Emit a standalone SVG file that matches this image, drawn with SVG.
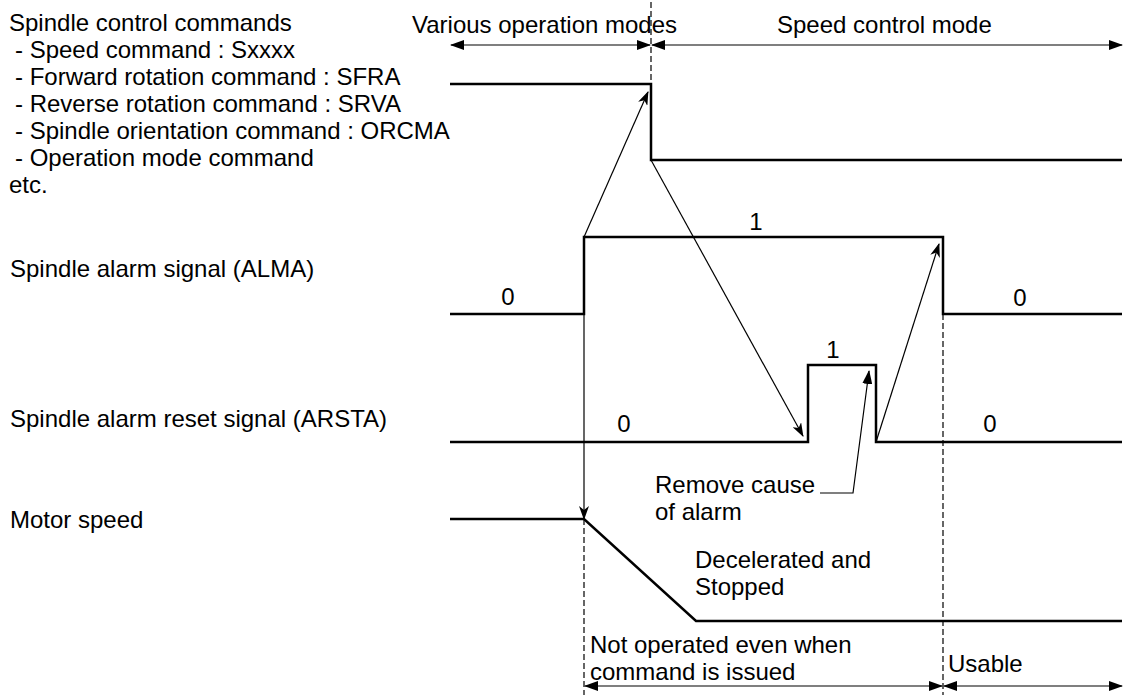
<svg xmlns="http://www.w3.org/2000/svg" width="1125" height="695" viewBox="0 0 1125 695">
<defs>
<marker id="tri" markerUnits="userSpaceOnUse" markerWidth="14" markerHeight="10" refX="13" refY="5" orient="auto-start-reverse" viewBox="0 0 14 10"><path d="M0,0 L14,5 L0,10 z" fill="#000"/></marker>
<marker id="vee" markerUnits="userSpaceOnUse" markerWidth="14" markerHeight="10" refX="13" refY="5" orient="auto" viewBox="0 0 14 10"><path d="M0,0 L14,5 L0,10 L4,5 z" fill="#000"/></marker>
</defs>
<style>
text{font-family:"Liberation Sans",Arial,sans-serif;font-size:24px;fill:#000}
.sig{fill:none;stroke:#000;stroke-width:2.5}
.thin{fill:none;stroke:#000;stroke-width:1.2}
.dash{fill:none;stroke:#000;stroke-width:1.2;stroke-dasharray:6,3}
.c{text-anchor:middle}
</style>
<rect width="1125" height="695" fill="#fff"/>
<g id="labels">
<text x="9" y="31">Spindle control commands</text>
<text x="15" y="58">- Speed command : Sxxxx</text>
<text x="15" y="85">- Forward rotation command : SFRA</text>
<text x="15" y="112">- Reverse rotation command : SRVA</text>
<text x="15" y="139">- Spindle orientation command : ORCMA</text>
<text x="15" y="166">- Operation mode command</text>
<text x="9" y="193">etc.</text>
<text x="10" y="277">Spindle alarm signal (ALMA)</text>
<text x="10" y="427">Spindle alarm reset signal (ARSTA)</text>
<text x="10" y="528">Motor speed</text>
</g>
<g id="modes">
<text x="412" y="33">Various operation modes</text>
<text x="777" y="33">Speed control mode</text>
</g>
<g id="command-signal"><path class="sig" d="M450,84 H651 V160 H1122"/></g>
<g id="alma-signal">
<path class="sig" d="M450,314 H584 V237 H943 V314 H1122"/>
<text class="c" x="508" y="305">0</text>
<text class="c" x="756" y="230">1</text>
<text class="c" x="1020" y="306">0</text>
</g>
<g id="arsta-signal">
<path class="sig" d="M450,442 H808 V365 H876 V442 H1122"/>
<text class="c" x="624" y="432">0</text>
<text class="c" x="833" y="358">1</text>
<text class="c" x="990" y="432">0</text>
</g>
<g id="motor-speed">
<path class="sig" d="M450,519 H584 L696,621 H1122"/>
<text x="695" y="568">Decelerated and</text>
<text x="695" y="595">Stopped</text>
</g>
<g id="notes">
<text x="655" y="493">Remove cause</text>
<text x="655" y="520">of alarm</text>
<text x="590" y="653">Not operated even when</text>
<text x="590" y="680">command is issued</text>
<text x="948" y="672">Usable</text>
</g>
<g id="connectors">
<path class="dash" d="M651,2 V84"/>
<path class="dash" d="M943,314 V695"/>
<path class="dash" d="M584,519 V695"/>
<path class="thin" d="M451,45 H650" marker-start="url(#tri)" marker-end="url(#tri)"/>
<path class="thin" d="M652,45 H1122" marker-start="url(#tri)" marker-end="url(#tri)"/>
<path class="thin" d="M585,686 H942" marker-start="url(#tri)" marker-end="url(#tri)"/>
<path class="thin" d="M944,686 H1122" marker-start="url(#tri)" marker-end="url(#tri)"/>
<path class="thin" d="M584,314 V519" marker-end="url(#vee)"/>
<path class="thin" d="M584,237 L648,92" marker-end="url(#vee)"/>
<path class="thin" d="M651,160 L803,436" marker-end="url(#vee)"/>
<path class="thin" d="M876,442 L939,244" marker-end="url(#vee)"/>
<path class="thin" d="M820,493 H853 L869,371" marker-end="url(#tri)"/>
</g>
</svg>
